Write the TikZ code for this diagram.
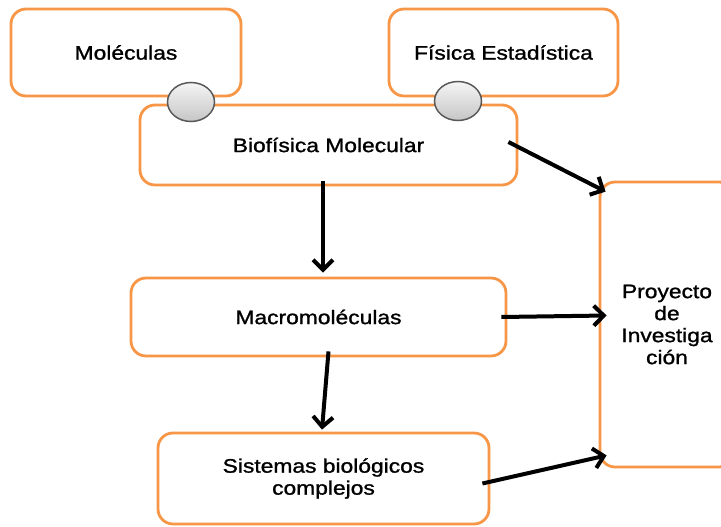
\documentclass[tikz,border=0pt]{standalone}
\usepackage{fontspec}
\setmainfont{Liberation Sans}[FakeStretch=1.17,FakeBold=1.2]
\usepackage{tikz}
\usetikzlibrary{arrows.meta,shapes.geometric}

\definecolor{boxorange}{HTML}{F79646}

\tikzset{
	topic/.style={draw=boxorange, line width=2.8pt, rounded corners=15pt, fill=white,
		align=center, inner sep=0pt, font=\fontsize{19.5}{22}\selectfont},
	joint/.style={ellipse, draw=black!65, line width=1.5pt, top color=gray!8,
		bottom color=gray!45, minimum width=47pt, minimum height=39pt},
	flow/.style={-{Straight Barb[length=10pt,width=20pt]}, line width=4pt}
}

\begin{document}
	\begin{tikzpicture}[x=1pt,y=-1pt]
		\useasboundingbox (0,0) rectangle (721,527);
		\clip (0,0) rectangle (721,527);
		% upper boxes
		\node[topic, minimum width=230pt, minimum height=87pt] (mol) at (126,52.5) {Moléculas};
		\node[topic, minimum width=229pt, minimum height=87pt] (fis) at (503.5,52.5) {Física Estadística};
		% main column
		\node[topic, minimum width=377pt, minimum height=80pt] (bio) at (328.5,145) {Biofísica Molecular};
		\node[topic, minimum width=375pt, minimum height=78pt] (macro) at (318.5,317) {Macromoléculas};
		\node[topic, minimum width=331pt, minimum height=91pt] (sis) at (323.5,478.5) {Sistemas biológicos\\complejos};
		\node[topic, minimum width=134pt, minimum height=285pt] (proy) at (667,324.5) {Proyecto\\de\\Investiga\\ción};
		% joints
		\node[joint] (j1) at (191,102) {};
		\node[joint] (j2) at (458,101) {};
		% arrows
		\draw[flow] ([xshift=-10pt,yshift=3pt]bio.east) -- ([xshift=7pt,yshift=-11pt]proy.north west);
		\draw[flow] ([xshift=-5.5pt,yshift=5pt]bio.south) -- ([xshift=4.5pt,yshift=4pt]macro.north);
		\draw[flow] ([xshift=-6pt]macro.east) -- ([xshift=8pt,yshift=9pt]proy.west);
		\draw[flow] ([xshift=10pt,yshift=6pt]macro.south) -- ([xshift=-1.5pt,yshift=2pt]sis.north);
		\draw[flow] ([xshift=-8pt,yshift=-5pt]sis.east) -- ([xshift=8pt,yshift=13pt]proy.south west);
	\end{tikzpicture}
\end{document}
